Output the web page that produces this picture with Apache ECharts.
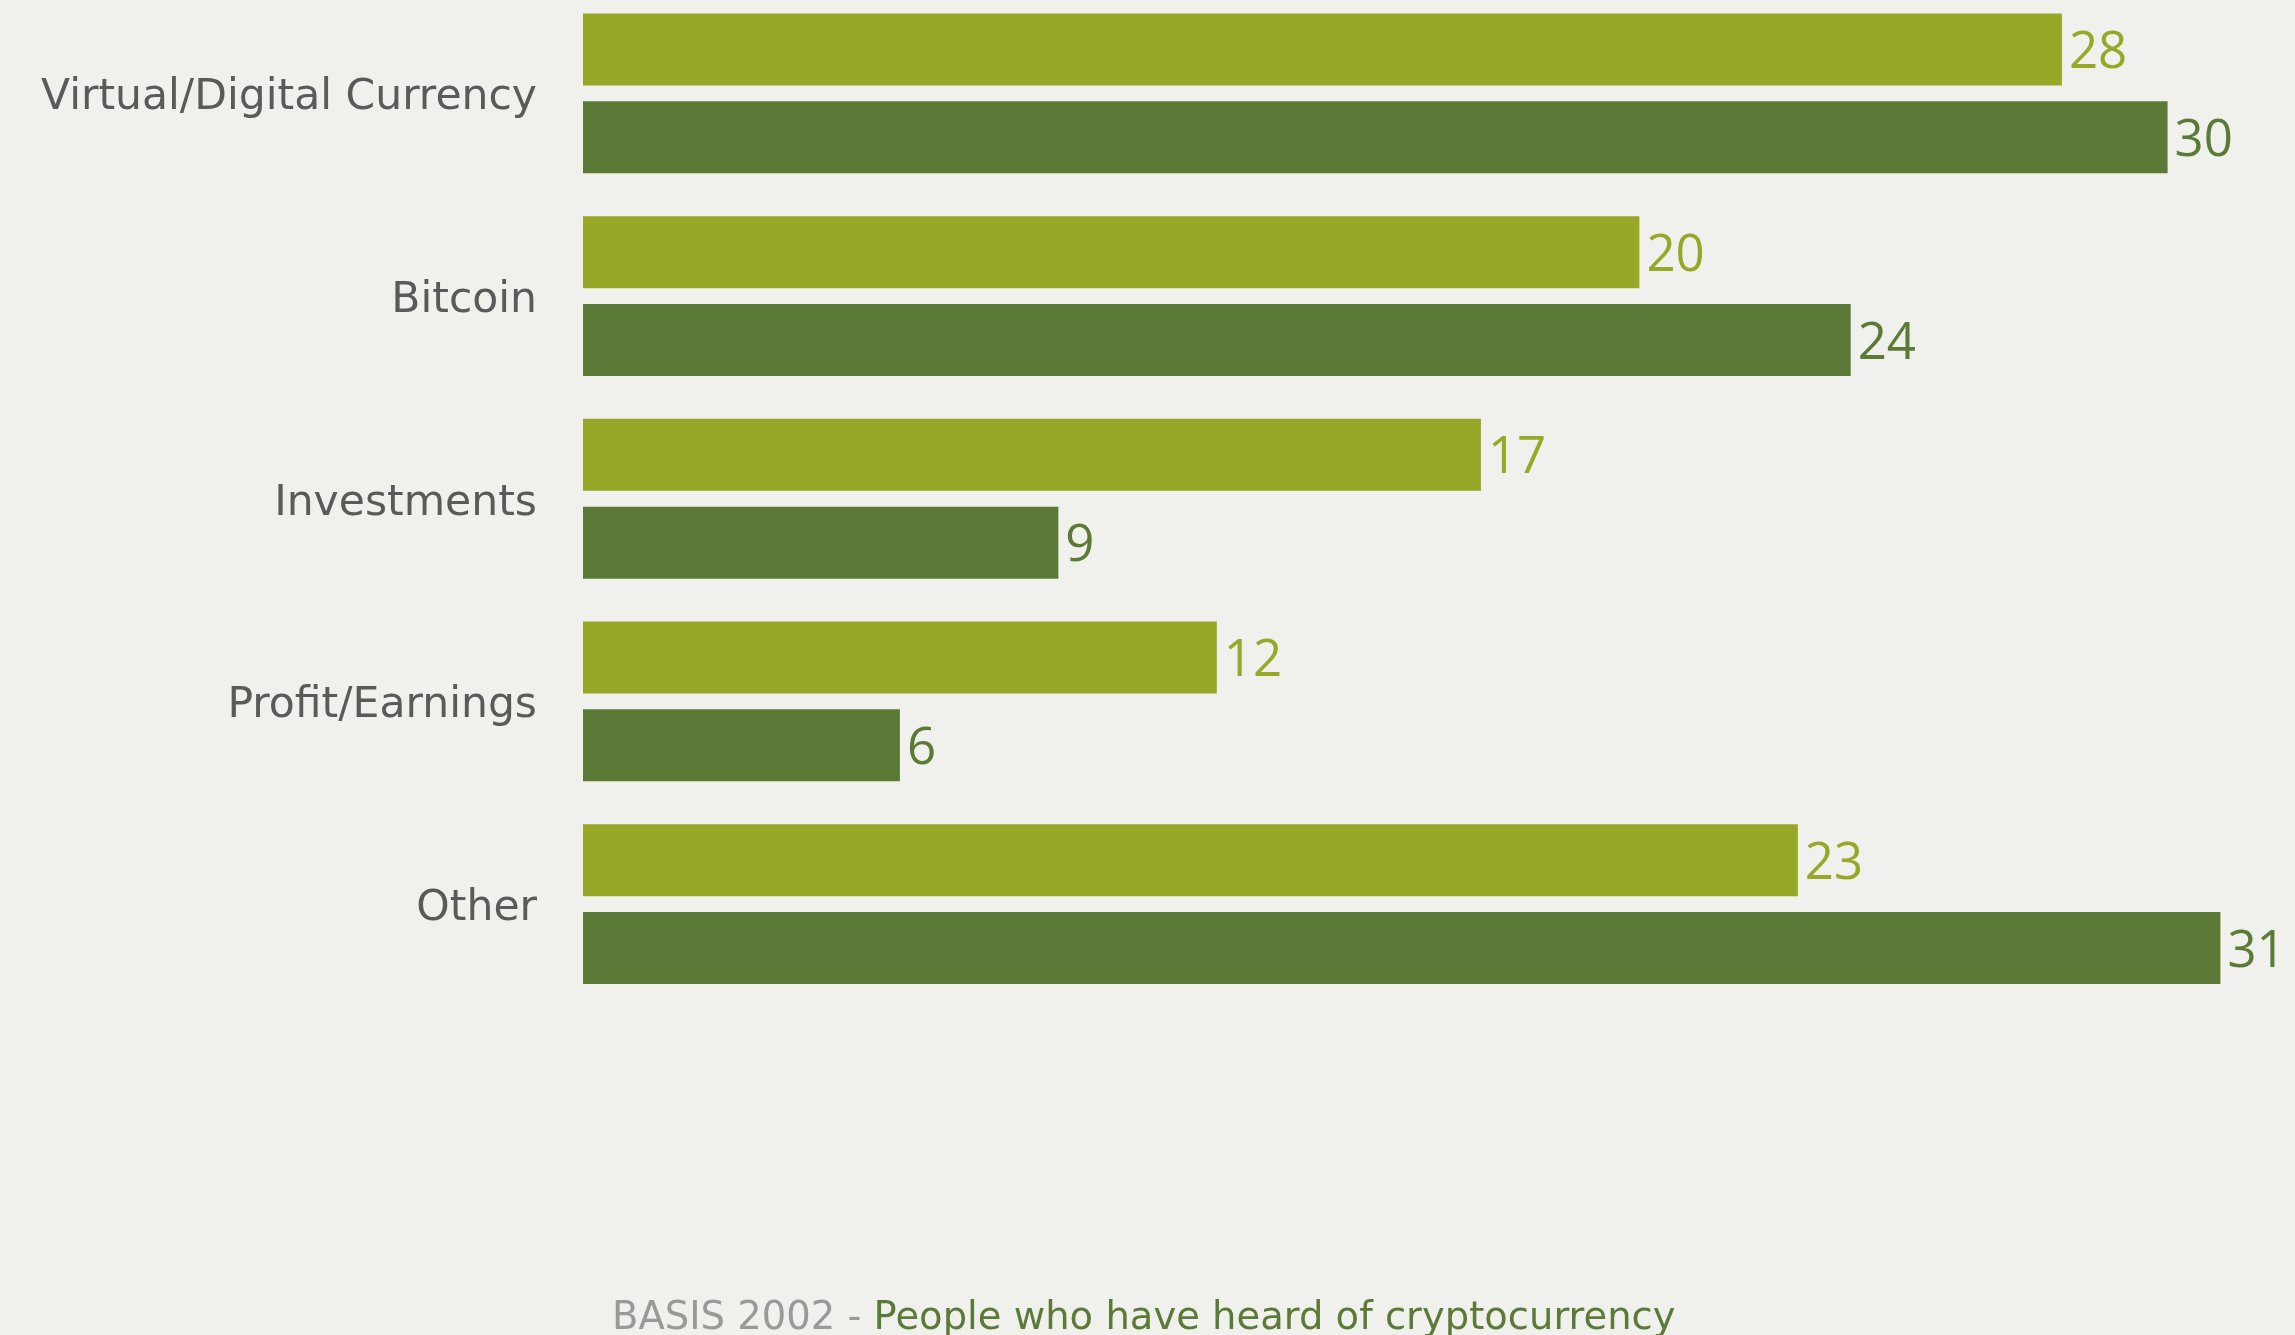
<!DOCTYPE html>
<html>
<head>
<meta charset="utf-8">
<title>Cryptocurrency awareness</title>
<script src="https://cdn.jsdelivr.net/npm/echarts@6/dist/echarts.min.js"></script>
<style>
  html, body { margin: 0; padding: 0; background: #f0f0ec; }
  #chart { width: 2295px; height: 1335px; }
</style>
</head>
<body>
<div id="chart"></div>
<script>
// Answer categories, top to bottom
const categories = ['Virtual/Digital Currency', 'Bitcoin', 'Investments', 'Profit/Earnings', 'Other'];
// Upper (light) bar in each pair
const lightValues = [28, 20, 17, 12, 23];
// Lower (dark) bar in each pair
const darkValues = [30, 24, 9, 6, 31];

const TEXT_FONT = '"DejaVu Sans", "Noto Sans", sans-serif';
const NUM_FONT = '"Open Sans", "Noto Sans", sans-serif';
const LIGHT = '#97a828';
const DARK = '#5c7a37';

const chart = echarts.init(document.getElementById('chart'), null, { renderer: 'canvas' });

function barSeries(name, data, color) {
  return {
    name: name,
    type: 'bar',
    data: data,
    barWidth: 72,
    barGap: '22%',
    itemStyle: { color: color },
    label: {
      show: true,
      position: 'right',
      distance: 7,
      offset: [0, 4],
      color: color,
      fontSize: 51,
      fontFamily: NUM_FONT
    },
    emphasis: { disabled: true },
    animation: false
  };
}

chart.setOption({
  backgroundColor: '#f0f0ec',
  animation: false,
  title: {
    left: 612,
    top: 1299,
    padding: 0,
    text: '{a|BASIS 2002 - }{b|People who have heard of cryptocurrency}',
    textStyle: {
      rich: {
        a: { color: '#999999', fontSize: 38.5, fontWeight: 'normal', fontFamily: TEXT_FONT, lineHeight: 40 },
        b: { color: DARK, fontSize: 38.5, fontWeight: 'normal', fontFamily: TEXT_FONT, lineHeight: 40 }
      }
    }
  },
  grid: {
    left: 583,
    top: -8,
    width: 1637.4,
    height: 1013.5,
    outerBoundsMode: 'none',
    containLabel: false
  },
  xAxis: {
    type: 'value',
    min: 0,
    max: 31,
    show: false
  },
  yAxis: {
    type: 'category',
    data: categories,
    inverse: true,
    axisLine: { show: false },
    axisTick: { show: false },
    splitLine: { show: false },
    axisLabel: {
      margin: 46,
      formatter: function (v) { return '{l|' + v + '}'; },
      rich: {
        l: {
          padding: [10, 0, 0, 0],
          color: '#5a5a5a',
          fontSize: 42.5,
          fontFamily: TEXT_FONT
        }
      }
    }
  },
  series: [
    barSeries('Light', lightValues, LIGHT),
    barSeries('Dark', darkValues, DARK)
  ]
});
</script>
</body>
</html>
